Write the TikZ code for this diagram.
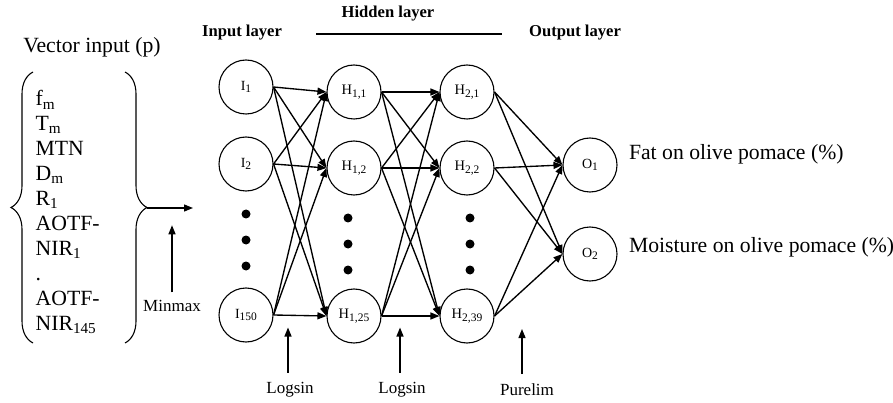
\documentclass[tikz,border=0pt]{standalone}
\usepackage{fontspec}
\setmainfont{Liberation Serif}
\usetikzlibrary{arrows.meta,decorations.pathreplacing}

% subscript for the neuron labels
\newcommand{\nsub}[1]{\raisebox{-2.5pt}{\fontsize{11.5}{12}\selectfont #1}}

\begin{document}
\begin{tikzpicture}[x=1pt, y=-1pt, line width=1.35pt,
  neuron/.style={draw, circle, minimum size=54pt, inner sep=0pt,
    line width=1.1pt, font=\fontsize{14}{16}\selectfont},
  hneuron/.style={neuron, font=\fontsize{14.5}{16}\selectfont},
  link/.style={-{Triangle[length=9pt,width=7pt]}},
  layer/.style={font=\bfseries\fontsize{16.6}{19}\selectfont},
  func/.style={font=\fontsize{17}{20}\selectfont},
  big/.style={font=\fontsize{21.7}{24.9}\selectfont}]
  \useasboundingbox (0,0) rectangle (893,403);

  % input vector
  \node[big] (vec) at (92,47) {Vector input (p)};
  \node[big, align=left, anchor=north west, inner sep=0pt] (list) at (35,90)
    {f\textsubscript{m}\\ T\textsubscript{m}\\ MTN\\ D\textsubscript{m}\\
     R\textsubscript{1}\\ AOTF-\\ NIR\textsubscript{1}\\ .\\ AOTF-\\
     NIR\textsubscript{145}};
  \draw[line width=1.1pt, decorate, decoration={brace, amplitude=22pt}]
    (33,343) -- (33,72);
  \draw[line width=1.1pt, decorate, decoration={brace, amplitude=22pt}]
    (125,72) -- (125,343);
  \coordinate (tip) at (147,208);
  \coordinate (in) at (193,208);
  \draw[link] (tip) -- (in);
  \node[func] (mm) at (172,306) {Minmax};
  \draw[link] ([yshift=4pt]mm.north) -- ++(0,-67);

  % layer titles
  \node[layer] (tin) at (242,33) {Input layer};
  \node[layer] (thid) at (388,14) {Hidden layer};
  \node[layer] (tout) at (575,33) {Output layer};
  \coordinate (l1) at (316,34);
  \coordinate (l2) at (502,34);
  \draw[line width=1.1pt] (l1) -- (l2);

  % neurons
  \node[neuron] (I1) at (246,87) {I\nsub{1}};
  \node[neuron] (I2) at (246,164) {I\nsub{2}};
  \node[neuron] (I150) at (246,315) {I\nsub{150}};
  \node[hneuron] (H11) at (354,92) {H\nsub{1,1}};
  \node[hneuron] (H12) at (354,168) {H\nsub{1,2}};
  \node[hneuron] (H125) at (354,316) {H\nsub{1,25}};
  \node[hneuron] (H21) at (467,92) {H\nsub{2,1}};
  \node[hneuron] (H22) at (467,168) {H\nsub{2,2}};
  \node[hneuron] (H239) at (467,316) {H\nsub{2,39}};
  \node[neuron] (O1) at (590,165) {O\nsub{1}};
  \node[neuron] (O2) at (590,254) {O\nsub{2}};

  \foreach \y in {214,240,266}
    \fill (246,\y) circle (4.5pt);
  \foreach \y in {218,244,270} {
    \fill (348,\y) circle (4.5pt);
    \fill (470,\y) circle (4.5pt);
  }

  % weights
  \foreach \a in {I1,I2,I150}
    \foreach \b in {H11,H12,H125}
      \draw[link] (\a.east) -- (\b.west);
  \foreach \a in {H11,H12,H125}
    \foreach \b in {H21,H22,H239}
      \draw[link] (\a.east) -- (\b.west);
  \foreach \a in {H21,H22,H239}
    \foreach \b in {O1,O2}
      \draw[link] (\a.east) -- (\b.west);

  \node[big, anchor=base west] (fat) at (625,160) {Fat on olive pomace (\%)};
  \node[big, anchor=base west] (moist) at (625,252) {Moisture on olive pomace (\%)};

  % transfer functions
  \node[func] (f1) at (290,390) {Logsin};
  \node[func] (f2) at (402,390) {Logsin};
  \node[func] (f3) at (527,390) {Purelim};
  \draw[link] ([xshift=-2pt,yshift=6pt]f1.north) -- ++(0,-45);
  \draw[link] ([xshift=-2pt,yshift=6pt]f2.north) -- ++(0,-45);
  \draw[link] ([xshift=-5pt,yshift=6pt]f3.north) -- ++(0,-45);
\end{tikzpicture}
\end{document}
